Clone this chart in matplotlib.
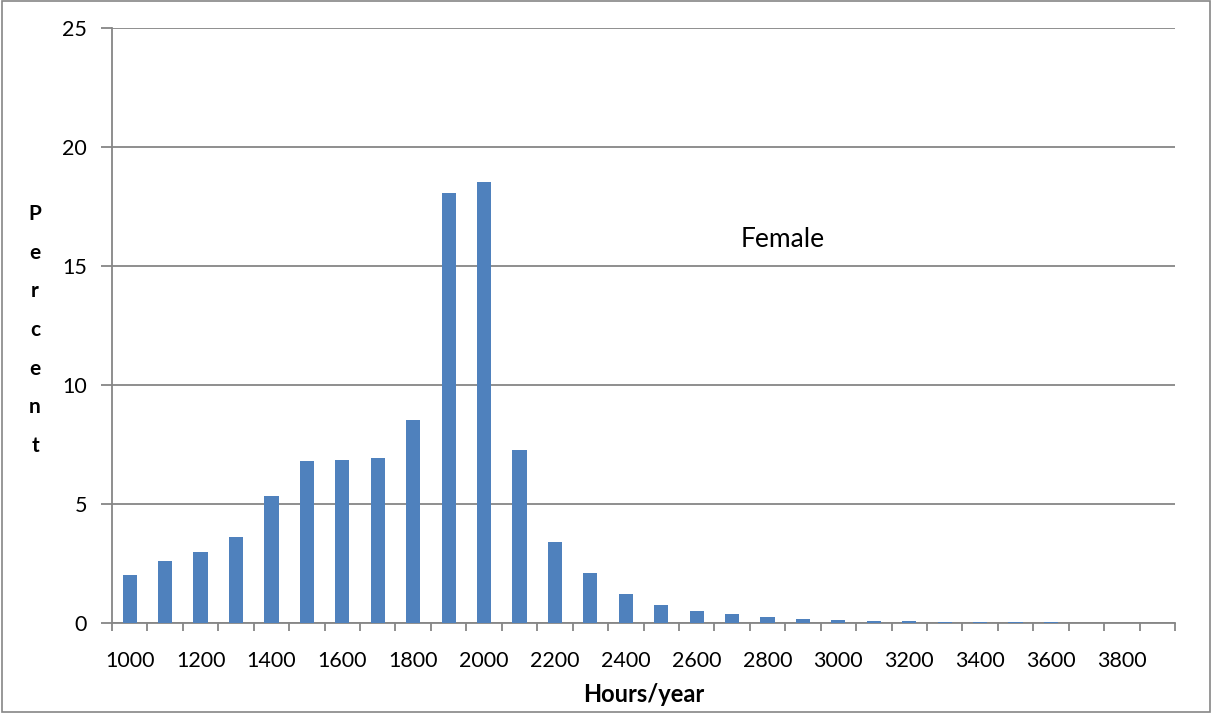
import numpy as np
import matplotlib.pyplot as plt
from matplotlib.patches import Rectangle

# Часове годишно (категории) и процент жени
hours = list(range(1000, 4000, 100))
percent = [2.0, 2.6, 3.0, 3.6, 5.35, 6.8, 6.85, 6.92, 8.52, 18.07,
           18.55, 7.27, 3.42, 2.1, 1.22, 0.76, 0.5, 0.39, 0.27, 0.17,
           0.13, 0.08, 0.08, 0.06, 0.05, 0.04, 0.03, 0.01, 0.01, 0.0]
tick_labels = [str(h) if i % 2 == 0 else "" for i, h in enumerate(hours)]

plt.rcParams['font.family'] = ['Lato', 'DejaVu Sans']
grey = "#868686"

fig = plt.figure(figsize=(12.12, 7.13), dpi=100)
ax = fig.add_axes([112/1212, 90/713, 1063/1212, 595/713])

x = np.arange(len(hours))
ax.bar(x, percent, width=0.4, color="#4F81BD", zorder=3)

ax.set_xlim(-0.5, len(hours) - 0.5)
ax.set_ylim(0, 25)
ax.set_yticks([0, 5, 10, 15, 20, 25])
ax.yaxis.grid(True, color=grey, linewidth=1.3, zorder=0)

ax.set_xticks(x)
ax.set_xticklabels(tick_labels, fontsize=15.5)
ax.set_xticks(np.arange(-0.5, len(hours)), minor=True)
ax.tick_params(axis="x", which="major", length=0, pad=20)
ax.tick_params(axis="x", which="minor", length=6, width=1.3, color=grey)
ax.tick_params(axis="y", length=8, width=1.3, color=grey, labelsize=15.5, pad=10)

for side in ["top", "right"]:
    ax.spines[side].set_visible(False)
for side in ["left", "bottom"]:
    ax.spines[side].set_color(grey)
    ax.spines[side].set_linewidth(1.3)

ax.text(18.44, 16.1, "Female", fontsize=19, ha="center", va="center")

fig.text(644/1212, 1 - 695/713, "Hours/year", fontsize=17, fontweight="bold",
         ha="center", va="center")
fig.text(35/1212, 1 - 330/713, "P\ne\nr\nc\ne\nn\nt", fontsize=15,
         fontweight="bold", ha="center", va="center", linespacing=2.17)

fig.patches.append(Rectangle((0.002, 0.002), 0.996, 0.996, transform=fig.transFigure,
                             fill=False, edgecolor=grey, linewidth=1.2))

fig.savefig("out.png", dpi=100)
